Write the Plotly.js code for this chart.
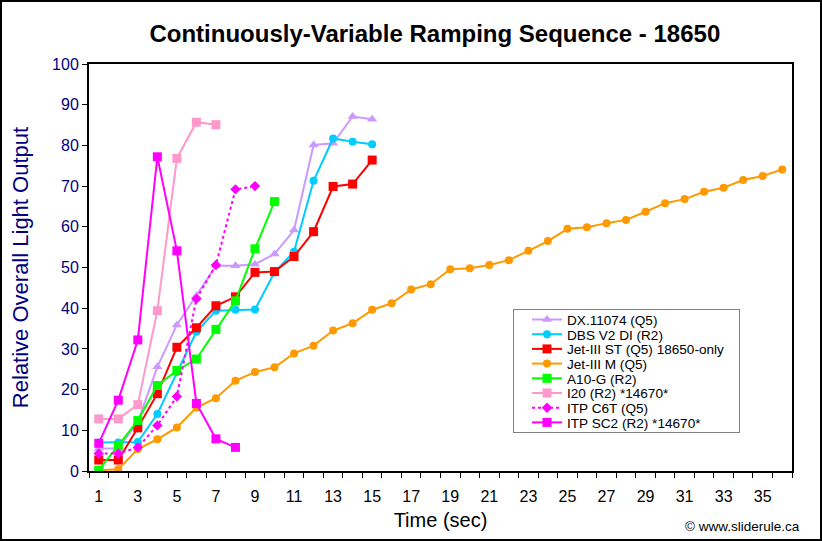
<!DOCTYPE html>
<html>
<head>
<meta charset="utf-8">
<script src="https://cdn.plot.ly/plotly-3.0.1.min.js"></script>
<style>
  html, body { margin: 0; padding: 0; background: #ffffff; }
  #chart { width: 822px; height: 541px; }
</style>
</head>
<body>
<div id="chart"></div>
<script>
// Time (sec) categories
const timeSec = [1,2,3,4,5,6,7,8,9,10,11,12,13,14,15,16,17,18,19,20,21,22,23,24,25,26,27,28,29,30,31,32,33,34,35,36];
const xTickLabels = [1,3,5,7,9,11,13,15,17,19,21,23,25,27,29,31,33,35];

// Relative overall light output per series
const dx11074   = [5.5, 5.5, 12.0, 25.6, 35.9, 43.0, 50.4, 50.4, 50.8, 53.3, 59.2, 80.1, 80.5, 87.1, 86.4];
const dbsV2DI   = [7.0, 7.0, 7.1, 14.0, 24.3, 34.2, 39.4, 39.6, 39.7, 48.8, 53.9, 71.3, 81.7, 80.9, 80.3];
const jet3ST    = [2.7, 2.7, 10.6, 19.0, 30.4, 35.2, 40.6, 42.8, 48.8, 49.0, 52.7, 58.8, 69.9, 70.5, 76.4];
const jet3M     = [0.2, 0.4, 5.4, 7.8, 10.7, 15.6, 17.9, 22.2, 24.3, 25.5, 28.9, 30.8, 34.5, 36.3, 39.6, 41.2, 44.6, 45.9, 49.6, 49.8, 50.6, 51.8, 54.1, 56.5, 59.5, 59.9, 60.9, 61.7, 63.7, 65.8, 66.8, 68.6, 69.6, 71.5, 72.5, 74.1];
const a10G      = [0.2, 6.2, 12.4, 21.0, 24.7, 27.5, 34.8, 41.8, 54.6, 66.2];
const i20       = [12.8, 12.8, 16.3, 39.4, 76.8, 85.7, 85.1];
const itpC6T    = [4.3, 4.3, 5.8, 11.2, 18.3, 42.3, 50.6, 69.2, 70.0];
const itpSC2    = [6.8, 17.4, 32.2, 77.2, 54.1, 16.6, 7.9, 5.8];

const seriesNames = ['DX.11074 (Q5)', 'DBS V2 DI (R2)', 'Jet-III ST (Q5) 18650-only', 'Jet-III M (Q5)', 'A10-G (R2)', 'I20 (R2) *14670*', 'ITP C6T (Q5)', 'ITP SC2 (R2) *14670*'];
const seriesData = [dx11074, dbsV2DI, jet3ST, jet3M, a10G, i20, itpC6T, itpSC2];
const seriesColors = ['#CC99FF', '#00CCFF', '#FF0000', '#FF9900', '#00FF00', '#FF99CC', '#FF00FF', '#FF00FF'];
const seriesSymbols = ['triangle-up', 'circle', 'square', 'circle', 'square', 'square', 'diamond', 'square'];
const seriesSizes = [9, 8, 9, 8, 9, 9, 8, 9];
const seriesDash = ['solid', 'solid', 'solid', 'solid', 'solid', 'solid', 'dot', 'solid'];

const FONT = 'Arial, "Liberation Sans", sans-serif';

const traces = seriesData.map((vals, i) => ({
  type: 'scatter',
  mode: 'lines+markers',
  name: seriesNames[i],
  x: timeSec.slice(0, vals.length),
  y: vals,
  line: { color: seriesColors[i], width: 2, dash: seriesDash[i] },
  marker: { color: seriesColors[i], symbol: seriesSymbols[i], size: seriesSizes[i], line: { width: 0 } }
}));

const W = 822, H = 541, L = 89, R = 30, T = 64, B = 70;
const pw = W - L - R, ph = H - T - B;

const layout = {
  width: W, height: H,
  margin: { l: L, r: R, t: T, b: B, pad: 0 },
  paper_bgcolor: '#ffffff',
  plot_bgcolor: '#ffffff',
  font: { family: FONT, color: '#000000' },
  title: {
    text: '<b>Continuously-Variable Ramping Sequence - 18650</b>',
    font: { family: FONT, size: 24, color: '#000000' },
    x: 0.529, xanchor: 'center', y: 0.938, yanchor: 'middle'
  },
  showlegend: true,
  legend: {
    x: (513 - L) / pw, xanchor: 'left',
    y: (H - B - 309) / ph, yanchor: 'top',
    bgcolor: '#ffffff', bordercolor: '#808080', borderwidth: 1,
    font: { family: FONT, size: 13.6, color: '#000000' },
    tracegroupgap: 0, itemwidth: 30
  },
  xaxis: {
    range: [0.5, 36.5],
    tickmode: 'array',
    tickvals: xTickLabels,
    ticktext: xTickLabels.map(String),
    ticks: '',
    ticklabelstandoff: 10,
    tickfont: { family: FONT, size: 16, color: '#000000' },
    showgrid: false, zeroline: false,
    showline: true, linecolor: '#000000', linewidth: 2, mirror: true,
    minor: { ticks: 'outside', ticklen: 5, tickcolor: '#000000', tickwidth: 1, tick0: 0.5, dtick: 1, showgrid: false },
    title: { text: 'Time (sec)', font: { family: FONT, size: 20, color: '#000000' }, standoff: 9 },
    fixedrange: true
  },
  yaxis: {
    range: [0, 100],
    tickmode: 'linear', tick0: 0, dtick: 10,
    ticks: 'outside', ticklen: 5, tickcolor: '#000000', tickwidth: 1,
    tickfont: { family: FONT, size: 16, color: '#000080' },
    showgrid: false, zeroline: false,
    showline: true, linecolor: '#000000', linewidth: 2, mirror: true,
    title: { text: 'Relative Overall Light Output', font: { family: FONT, size: 22, color: '#000080' }, standoff: 17 },
    fixedrange: true
  },
  shapes: [{
    type: 'rect', xref: 'paper', yref: 'paper', layer: 'above',
    x0: -(L - 1) / pw, x1: 1 + (R - 1) / pw, y0: -(B - 1) / ph, y1: 1 + (T - 1) / ph,
    line: { color: '#000000', width: 2 }
  }],
  annotations: [{
    text: '© www.sliderule.ca',
    xref: 'paper', yref: 'paper',
    x: 1 + (R - 20) / pw, xanchor: 'right',
    y: -(526 - (H - B)) / ph, yanchor: 'middle',
    showarrow: false,
    font: { family: FONT, size: 13.5, color: '#000000' }
  }]
};

Plotly.newPlot('chart', traces, layout, { displayModeBar: false, staticPlot: true }).then(gd => {
  // Tighten the legend rows to match the reference's compact spacing
  try {
    const leg = gd.querySelector('.legend');
    const bg = leg.querySelector('.bg');
    const sb = leg.querySelector('.scrollbox');
    if (sb) sb.removeAttribute('clip-path');
    const items = leg.querySelectorAll('.traces');
    const step = 14.7, top = 10.5, xoff = 14;
    items.forEach((it, i) => it.setAttribute('transform', 'translate(' + xoff + ',' + (top + i * step) + ')'));
    bg.setAttribute('x', 0.5); bg.setAttribute('y', 0.5);
    bg.setAttribute('width', 226); bg.setAttribute('height', 123);
    leg.setAttribute('transform', 'translate(513,309)');
  } catch (e) {}
});
</script>
</body>
</html>
